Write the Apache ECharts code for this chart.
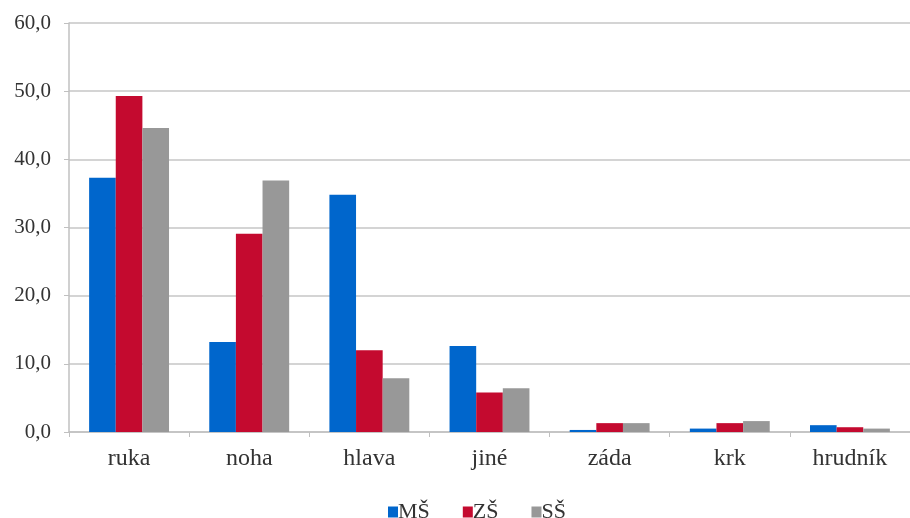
<!DOCTYPE html>
<html>
<head>
<meta charset="utf-8">
<script src="https://cdn.jsdelivr.net/npm/echarts@6/dist/echarts.min.js"></script>
<style>html,body{margin:0;padding:0;background:#fff}#c{width:910px;height:518px}</style>
</head>
<body>
<div id="c"></div>
<script>
var categories = ['ruka', 'noha', 'hlava', 'jiné', 'záda', 'krk', 'hrudník'];
var seriesNames = ['MŠ', 'ZŠ', 'SŠ'];
var valuesMS = [37.3, 13.2, 34.8, 12.6, 0.3, 0.5, 1.0];
var valuesZS = [49.3, 29.1, 12.0, 5.8, 1.3, 1.3, 0.7];
var valuesSS = [44.6, 36.9, 7.9, 6.4, 1.3, 1.6, 0.5];
var colors = ['#0066CC', '#C40A2F', '#989898'];

var chart = echarts.init(document.getElementById('c'));
var txt = {fontFamily: 'Liberation Serif', fontSize: 24, color: '#333333'};
chart.setOption({
  animation: false,
  color: colors,
  grid: {left: 69, top: 23, width: 845, height: 409, containLabel: false},
  legend: {
    left: 383, top: 496,
    itemWidth: 10, itemHeight: 11, itemGap: 33,
    icon: 'rect',
    textStyle: Object.assign({}, txt, {fontSize: 22, padding: [0, 0, 0, -5]}),
    data: seriesNames
  },
  xAxis: {
    type: 'category',
    data: categories,
    axisLine: {lineStyle: {color: '#c0c0c0', width: 1.5}},
    axisTick: {show: true, length: 5, lineStyle: {color: '#c0c0c0'}},
    axisLabel: Object.assign({}, txt, {margin: 15})
  },
  yAxis: {
    type: 'value',
    min: 0, max: 60, interval: 10,
    axisLine: {show: true, lineStyle: {color: '#c0c0c0', width: 1.5}},
    axisTick: {show: true, length: 5, lineStyle: {color: '#c0c0c0'}},
    splitLine: {lineStyle: {color: '#d4d4d4', width: 2}},
    axisLabel: Object.assign({}, txt, {fontSize: 21, margin: 18, formatter: function (v) { return v.toFixed(1).replace('.', ','); }})
  },
  series: [
    {name: seriesNames[0], type: 'bar', data: valuesMS, barGap: '0%', barCategoryGap: '33.5%'},
    {name: seriesNames[1], type: 'bar', data: valuesZS, barGap: '0%', barCategoryGap: '33.5%'},
    {name: seriesNames[2], type: 'bar', data: valuesSS, barGap: '0%', barCategoryGap: '33.5%'}
  ]
});
</script>
</body>
</html>
